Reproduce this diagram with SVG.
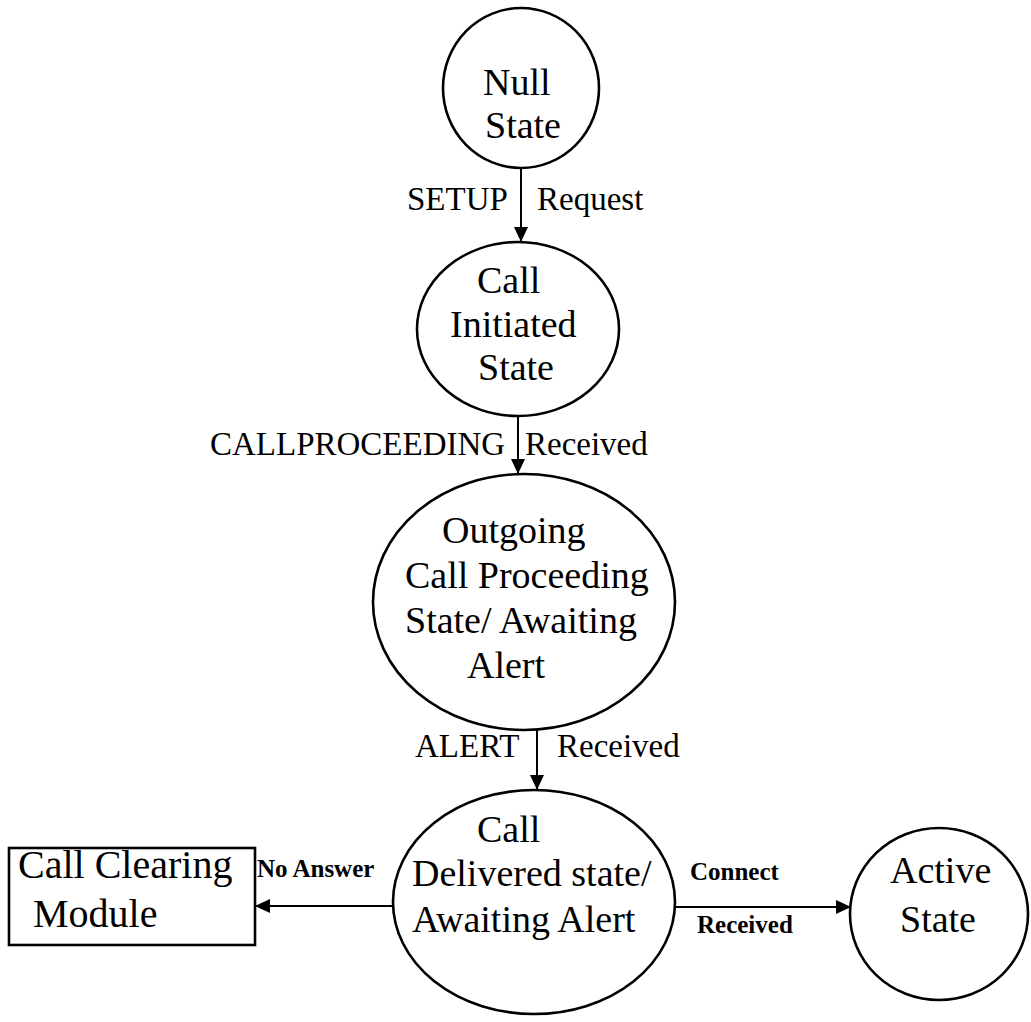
<svg xmlns="http://www.w3.org/2000/svg" width="1031" height="1022" viewBox="0 0 1031 1022">
  <style>
    .node { fill: #fff; stroke: #000; stroke-width: 2.6; }
    .edge { stroke: #000; stroke-width: 2; fill: none; }
    .nt { font-family: "Liberation Serif", "Times New Roman", serif; font-size: 38px; fill: #000; }
    .bt { font-family: "Liberation Serif", "Times New Roman", serif; font-size: 40px; fill: #000; }
    .lt { font-family: "Liberation Serif", "Times New Roman", serif; font-size: 33px; fill: #000; }
    .st { font-family: "Liberation Serif", "Times New Roman", serif; font-size: 25px; font-weight: bold; fill: #000; }
  </style>
  <defs>
    <marker id="arrow" markerUnits="userSpaceOnUse" markerWidth="16" markerHeight="14" refX="15" refY="7" orient="auto">
      <path d="M0,0 L15,7 L0,14 z" fill="#000"/>
    </marker>
  </defs>
  <rect width="1031" height="1022" fill="#fff"/>

  <!-- transitions -->
  <g id="connectors">
    <line class="edge" x1="521" y1="168" x2="521" y2="242" marker-end="url(#arrow)"/>
    <line class="edge" x1="518" y1="416" x2="518" y2="474" marker-end="url(#arrow)"/>
    <line class="edge" x1="537" y1="730" x2="537" y2="790" marker-end="url(#arrow)"/>
    <line class="edge" x1="392" y1="906" x2="255" y2="906" marker-end="url(#arrow)"/>
    <line class="edge" x1="675" y1="907" x2="851" y2="907" marker-end="url(#arrow)"/>
    <text class="lt" x="407" y="210">SETUP</text>
    <text class="lt" x="537" y="210">Request</text>
    <text class="lt" x="210" y="455">CALLPROCEEDING</text>
    <text class="lt" x="525" y="455">Received</text>
    <text class="lt" x="415" y="757">ALERT</text>
    <text class="lt" x="557" y="757">Received</text>
    <text class="st" x="257" y="877">No Answer</text>
    <text class="st" x="690" y="880">Connect</text>
    <text class="st" x="697" y="933">Received</text>
  </g>

  <g id="null-state">
    <ellipse class="node" cx="521" cy="88" rx="78" ry="80"/>
    <text class="nt" x="483" y="95">Null</text>
    <text class="nt" x="485" y="138">State</text>
  </g>

  <g id="call-initiated">
    <ellipse class="node" cx="518" cy="329" rx="101" ry="87"/>
    <text class="nt" x="477" y="293">Call</text>
    <text class="nt" x="450" y="337">Initiated</text>
    <text class="nt" x="478" y="380">State</text>
  </g>

  <g id="outgoing-call-proceeding">
    <ellipse class="node" cx="524" cy="602" rx="151" ry="128"/>
    <text class="nt" x="442" y="543">Outgoing</text>
    <text class="nt" x="405" y="588">Call Proceeding</text>
    <text class="nt" x="405" y="633">State/ Awaiting</text>
    <text class="nt" x="467" y="678">Alert</text>
  </g>

  <g id="call-delivered">
    <ellipse class="node" cx="534" cy="902" rx="141" ry="112"/>
    <text class="nt" x="477" y="842">Call</text>
    <text class="nt" x="412" y="886">Delivered state/</text>
    <text class="nt" x="412" y="932">Awaiting Alert</text>
  </g>

  <g id="call-clearing-module">
    <rect class="node" x="9" y="848" width="246" height="97"/>
    <text class="bt" x="18" y="878">Call Clearing</text>
    <text class="bt" x="33" y="927">Module</text>
  </g>

  <g id="active-state">
    <ellipse class="node" cx="939" cy="914" rx="89" ry="86"/>
    <text class="nt" x="890" y="883">Active</text>
    <text class="nt" x="900" y="932">State</text>
  </g>
</svg>
